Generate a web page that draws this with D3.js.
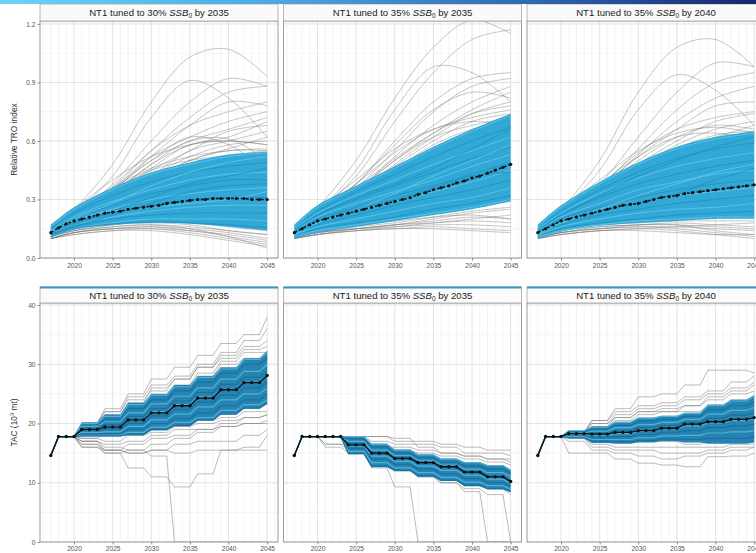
<!DOCTYPE html>
<html>
<head>
<meta charset="utf-8">
<script src="https://cdn.jsdelivr.net/npm/d3@7"></script>
<style>
  html, body { margin: 0; padding: 0; background: #fff; }
  svg { display: block; font-family: "Liberation Sans", Arial, sans-serif; }
</style>
</head>
<body>
<script>
// ---------- shared axes / categories ----------
const knotYears = [2017, 2020, 2025, 2030, 2035, 2040, 2045];
const medianYears = d3.range(2017, 2046);
const xTickYears = [2020, 2025, 2030, 2035, 2040, 2045];
const troTicks = [0, 0.3, 0.6, 0.9, 1.2];
const tacTicks = [0, 10, 20, 30, 40];
const tacHeadYears = [2017, 2018, 2019, 2020];
const tacHead = [14.6, 17.8, 17.8, 17.8];
const tacBlockStart = [2021, 2024, 2027, 2030, 2033, 2036, 2039, 2042, 2045];
const tacBlockEnd   = [2023, 2026, 2029, 2032, 2035, 2038, 2041, 2044, 2045];
const scenarioTarget = ["30%", "35%", "35%"];
const scenarioYear = ["2035", "2035", "2040"];

// ---------- relative TRO index: 30% SSB0 by 2035 ----------
const troGrayA = [
  [0.15,0.25,0.48,0.80,1.03,1.07,0.93],[0.14,0.23,0.42,0.72,0.91,0.82,0.62],
  [0.15,0.22,0.38,0.60,0.80,0.92,0.88],[0.14,0.22,0.36,0.55,0.72,0.85,0.88],
  [0.13,0.21,0.34,0.52,0.68,0.80,0.78],[0.14,0.21,0.35,0.52,0.62,0.70,0.75],
  [0.15,0.22,0.36,0.50,0.60,0.66,0.72],[0.13,0.20,0.33,0.48,0.58,0.62,0.70],
  [0.14,0.21,0.32,0.45,0.55,0.65,0.68],[0.13,0.20,0.32,0.46,0.58,0.60,0.58],
  [0.15,0.21,0.33,0.48,0.60,0.61,0.50],[0.14,0.22,0.35,0.50,0.62,0.58,0.45],
  [0.13,0.20,0.30,0.42,0.52,0.58,0.60],[0.14,0.20,0.30,0.40,0.50,0.56,0.62],
  [0.12,0.19,0.29,0.40,0.50,0.55,0.55],[0.13,0.19,0.30,0.42,0.55,0.60,0.65],
  [0.16,0.23,0.37,0.55,0.68,0.75,0.80],[0.14,0.21,0.30,0.38,0.45,0.52,0.55],
  [0.13,0.20,0.28,0.36,0.44,0.48,0.52],[0.16,0.24,0.36,0.46,0.52,0.55,0.56],
  [0.15,0.23,0.35,0.45,0.50,0.52,0.50],[0.16,0.25,0.40,0.52,0.58,0.60,0.58],
  [0.11,0.14,0.16,0.17,0.16,0.14,0.12],[0.10,0.13,0.15,0.16,0.15,0.13,0.10],
  [0.10,0.13,0.16,0.17,0.15,0.11,0.08],[0.11,0.14,0.17,0.18,0.17,0.14,0.12],
  [0.10,0.12,0.14,0.14,0.12,0.09,0.06],[0.11,0.14,0.17,0.19,0.18,0.16,0.14],
  [0.10,0.13,0.15,0.15,0.13,0.10,0.07],[0.12,0.15,0.18,0.19,0.19,0.17,0.15],
  [0.10,0.12,0.14,0.15,0.14,0.12,0.09],[0.11,0.15,0.18,0.20,0.20,0.18,0.16],
  [0.10,0.13,0.15,0.16,0.14,0.11,0.05]
];
const troBlueA = [
  [0.16,0.25,0.35,0.43,0.48,0.52,0.54],[0.15,0.23,0.32,0.39,0.44,0.47,0.49],
  [0.14,0.21,0.29,0.35,0.40,0.43,0.44],[0.14,0.20,0.27,0.33,0.37,0.40,0.40],
  [0.13,0.19,0.25,0.30,0.33,0.35,0.36],[0.13,0.18,0.23,0.27,0.30,0.31,0.31],
  [0.12,0.17,0.21,0.24,0.26,0.27,0.27],[0.12,0.16,0.20,0.22,0.23,0.23,0.23],
  [0.11,0.15,0.18,0.20,0.20,0.20,0.19],[0.11,0.15,0.175,0.185,0.18,0.17,0.155],
  [0.13,0.20,0.28,0.37,0.44,0.49,0.52],[0.12,0.17,0.24,0.31,0.38,0.42,0.46],
  [0.14,0.19,0.24,0.26,0.28,0.30,0.34],[0.12,0.16,0.22,0.28,0.34,0.37,0.38]
];
const troLoA = [0.105,0.145,0.17,0.18,0.175,0.16,0.14];
const troHiA = [0.17,0.26,0.36,0.44,0.49,0.53,0.545];
const troMedA = [0.13,0.155,0.175,0.19,0.20,0.21,0.22,0.23,0.235,0.24,0.25,0.255,0.26,0.265,
  0.27,0.28,0.285,0.29,0.295,0.30,0.30,0.305,0.305,0.305,0.305,0.305,0.30,0.30,0.30];

// ---------- relative TRO index: 35% SSB0 by 2035 ----------
const troGrayB = [
  [0.16,0.26,0.50,0.82,1.08,1.22,1.15],[0.15,0.24,0.42,0.70,0.95,1.12,1.17],
  [0.15,0.24,0.45,0.76,0.98,0.95,0.80],[0.14,0.22,0.38,0.60,0.80,0.92,0.95],
  [0.14,0.22,0.36,0.55,0.75,0.88,0.92],[0.15,0.23,0.38,0.58,0.76,0.85,0.82],
  [0.13,0.21,0.34,0.52,0.68,0.80,0.88],[0.14,0.22,0.35,0.50,0.64,0.76,0.85],
  [0.13,0.20,0.32,0.48,0.62,0.74,0.80],[0.15,0.24,0.38,0.54,0.66,0.72,0.76],
  [0.14,0.21,0.33,0.47,0.60,0.70,0.74],[0.13,0.20,0.31,0.45,0.58,0.66,0.70],
  [0.16,0.25,0.40,0.56,0.66,0.70,0.68],[0.14,0.22,0.34,0.50,0.62,0.68,0.72],
  [0.15,0.23,0.36,0.51,0.64,0.74,0.78],[0.12,0.19,0.30,0.44,0.56,0.64,0.66],
  [0.10,0.12,0.14,0.16,0.18,0.20,0.22],[0.10,0.12,0.15,0.17,0.19,0.21,0.20],
  [0.11,0.13,0.15,0.16,0.17,0.17,0.16],[0.10,0.12,0.14,0.15,0.16,0.15,0.14],
  [0.11,0.13,0.16,0.18,0.21,0.24,0.26],[0.10,0.13,0.15,0.17,0.20,0.23,0.25],
  [0.11,0.14,0.17,0.19,0.21,0.22,0.20],[0.10,0.12,0.14,0.15,0.15,0.14,0.13],
  [0.12,0.15,0.18,0.20,0.23,0.27,0.29],[0.11,0.13,0.15,0.17,0.18,0.19,0.18]
];
const troBlueB = [
  [0.16,0.26,0.36,0.46,0.56,0.65,0.73],[0.15,0.24,0.34,0.43,0.52,0.60,0.67],
  [0.15,0.23,0.32,0.40,0.48,0.55,0.62],[0.14,0.22,0.30,0.37,0.44,0.51,0.57],
  [0.14,0.21,0.28,0.34,0.40,0.47,0.53],[0.13,0.20,0.26,0.32,0.37,0.43,0.49],
  [0.13,0.19,0.24,0.29,0.34,0.39,0.45],[0.12,0.17,0.22,0.27,0.31,0.35,0.40],
  [0.12,0.16,0.20,0.24,0.28,0.31,0.36],[0.11,0.15,0.18,0.21,0.25,0.28,0.32],
  [0.11,0.14,0.17,0.20,0.23,0.26,0.30],[0.14,0.22,0.31,0.38,0.46,0.56,0.66],
  [0.12,0.18,0.25,0.33,0.42,0.50,0.58],[0.13,0.19,0.25,0.30,0.36,0.42,0.44]
];
const troLoB = [0.10,0.13,0.16,0.19,0.22,0.25,0.29];
const troHiB = [0.17,0.27,0.37,0.47,0.57,0.66,0.74];
const troMedB = [0.13,0.15,0.17,0.19,0.20,0.21,0.22,0.23,0.24,0.25,0.26,0.27,0.28,0.29,
  0.30,0.31,0.325,0.335,0.35,0.36,0.37,0.385,0.395,0.41,0.42,0.435,0.45,0.465,0.48];

// ---------- relative TRO index: 35% SSB0 by 2040 ----------
const troGrayC = [
  [0.15,0.25,0.50,0.85,1.08,1.12,0.98],[0.15,0.24,0.45,0.76,0.94,0.86,0.68],
  [0.14,0.22,0.38,0.62,0.85,1.00,0.98],[0.14,0.22,0.36,0.56,0.76,0.90,0.95],
  [0.13,0.21,0.35,0.53,0.70,0.82,0.88],[0.14,0.22,0.36,0.52,0.66,0.78,0.80],
  [0.15,0.23,0.37,0.54,0.66,0.72,0.75],[0.13,0.20,0.32,0.48,0.60,0.70,0.74],
  [0.14,0.21,0.33,0.46,0.58,0.66,0.70],[0.14,0.22,0.35,0.50,0.62,0.68,0.66],
  [0.13,0.20,0.31,0.44,0.56,0.63,0.65],[0.15,0.24,0.38,0.52,0.62,0.64,0.60],
  [0.12,0.19,0.30,0.42,0.53,0.60,0.63],[0.16,0.25,0.40,0.55,0.64,0.67,0.64],
  [0.14,0.21,0.32,0.45,0.56,0.62,0.68],
  [0.10,0.12,0.14,0.15,0.16,0.17,0.18],[0.10,0.13,0.15,0.16,0.16,0.15,0.14],
  [0.11,0.13,0.15,0.16,0.15,0.13,0.11],[0.10,0.12,0.14,0.15,0.14,0.12,0.10],
  [0.11,0.14,0.16,0.17,0.17,0.16,0.15],[0.12,0.14,0.17,0.18,0.19,0.19,0.19],
  [0.10,0.12,0.14,0.14,0.13,0.12,0.12],[0.11,0.13,0.16,0.17,0.18,0.17,0.16],
  [0.10,0.13,0.15,0.17,0.17,0.14,0.12]
];
const troBlueC = [
  [0.16,0.26,0.38,0.48,0.56,0.61,0.64],[0.15,0.24,0.35,0.44,0.51,0.56,0.59],
  [0.15,0.23,0.33,0.41,0.47,0.51,0.54],[0.14,0.22,0.31,0.38,0.43,0.47,0.50],
  [0.14,0.21,0.28,0.35,0.39,0.43,0.45],[0.13,0.20,0.26,0.31,0.35,0.38,0.40],
  [0.13,0.18,0.24,0.28,0.32,0.34,0.36],[0.12,0.17,0.22,0.25,0.28,0.30,0.32],
  [0.12,0.16,0.20,0.23,0.25,0.26,0.28],[0.11,0.15,0.18,0.20,0.22,0.23,0.24],
  [0.11,0.14,0.17,0.19,0.20,0.21,0.21],[0.14,0.22,0.32,0.42,0.50,0.57,0.62],
  [0.12,0.18,0.25,0.32,0.38,0.44,0.48],[0.13,0.19,0.24,0.28,0.33,0.40,0.46]
];
const troLoC = [0.10,0.135,0.165,0.18,0.19,0.20,0.20];
const troHiC = [0.17,0.27,0.39,0.49,0.57,0.62,0.65];
const troMedC = [0.13,0.15,0.17,0.19,0.20,0.21,0.22,0.23,0.24,0.25,0.26,0.27,0.275,0.28,
  0.29,0.30,0.31,0.315,0.32,0.33,0.335,0.34,0.345,0.35,0.355,0.36,0.365,0.37,0.375];

// ---------- TAC (1000 t), values per 3-year TAC block ----------
const tacGrayA = [
  [20.0,22.5,25.0,27.5,29.5,31.5,33.5,35.0,38.0],[20.0,22.0,24.5,26.5,28.0,30.0,32.0,34.0,36.0],
  [19.5,21.5,23.5,26.0,27.5,29.5,31.5,33.0,34.0],[20.0,22.0,24.0,25.5,27.5,29.5,31.0,32.5,33.0],
  [19.5,21.0,23.0,25.0,26.5,28.5,30.5,32.0,32.0],[19.0,21.0,22.5,24.5,26.0,28.0,30.0,31.0,31.5],
  [16.5,15.5,16.5,17.5,18.0,19.0,20.0,21.0,21.5],[16.0,15.0,15.5,16.5,17.5,18.5,19.5,20.0,20.5],
  [16.5,15.0,12.5,11.0,9.3,11.5,15.5,16.0,18.0],[17.0,16.0,15.5,14.5,0,0,0,0,0],
  [17.0,16.5,17.0,18.0,19.0,19.0,19.5,20.0,20.0],[16.0,15.5,15.0,15.5,16.5,17.0,17.0,18.0,19.0],
  [17.5,17.0,18.0,19.0,19.5,20.5,21.0,22.0,22.0],[18.0,18.0,19.0,20.0,21.0,22.0,23.0,24.0,25.0],
  [19.0,20.0,21.5,23.0,24.5,26.0,27.5,28.5,29.5],[18.5,19.5,20.5,22.0,23.5,25.0,26.5,28.0,29.0],
  [18.0,18.5,19.5,20.5,21.5,23.0,24.0,25.0,26.0],[17.0,15.5,15.0,15.5,15.0,15.5,15.5,15.5,15.5],
  [19.0,20.5,22.0,24.0,25.5,27.0,28.5,30.0,31.0],[17.5,18.5,18.0,18.5,19.5,20.0,20.5,21.0,21.5]
];
const tacBlueA = [
  [20.0,21.2,23.2,24.8,26.2,27.8,29.2,30.8,32.0],[19.6,20.8,22.5,24.0,25.5,27.0,28.5,30.0,31.0],
  [19.5,20.3,21.8,23.3,24.6,26.0,27.5,28.8,30.0],[19.2,19.8,21.2,22.5,23.8,25.2,26.6,27.8,28.8],
  [19.0,19.4,20.6,22.0,23.2,24.5,25.8,27.0,28.0],[18.7,19.0,20.0,21.3,22.4,23.6,24.8,26.0,27.0],
  [18.5,18.6,19.5,20.6,21.6,22.8,24.0,25.0,26.0],[18.2,18.3,19.0,20.0,20.8,21.8,23.0,24.0,25.0],
  [18.0,18.0,18.5,19.4,20.2,21.0,22.2,23.2,24.0],[17.9,17.9,18.2,19.0,19.7,20.6,21.6,22.6,23.4]
];
const tacLoA = [17.8,17.8,18.0,18.8,19.6,20.5,21.5,22.5,23.3];
const tacHiA = [20.2,21.5,23.5,25.0,26.5,28.0,29.5,31.0,32.3];
const tacMedA = [19.0,19.4,20.6,21.8,23.0,24.3,25.7,26.9,28.1];

const tacGrayB = [
  [17.8,17.8,17.8,17.0,17.0,16.5,16.0,15.5,15.5],[17.8,17.8,17.0,16.5,16.5,16.0,15.0,15.0,14.5],
  [17.8,17.8,17.8,17.5,16.0,15.0,14.5,14.0,13.5],[16.5,15.5,15.0,14.5,13.5,13.0,12.0,11.0,10.0],
  [16.0,15.0,14.0,13.0,12.0,11.0,10.0,9.0,8.0],[17.8,15.0,12.5,9.3,0,0,0,0,0],
  [17.8,15.0,13.0,12.0,11.0,10.0,8.5,0,0],[17.8,15.5,13.5,12.5,11.0,10.0,9.0,8.0,0],
  [17.8,16.5,15.5,14.5,13.5,12.5,11.5,10.5,9.5],[17.8,17.0,16.5,15.5,15.0,14.5,14.0,13.5,13.0],
  [17.8,15.0,13.0,12.0,11.5,10.5,9.5,9.0,8.5],[17.8,15.5,14.0,13.0,12.0,11.0,10.0,9.5,9.0],
  [17.8,16.0,14.5,13.5,12.5,11.5,11.0,10.5,10.0],[17.8,17.8,16.5,15.0,14.0,13.0,12.5,12.0,11.5],
  [17.8,17.5,16.0,15.0,14.5,14.0,13.0,12.5,12.0],[16.5,16.5,16.0,16.0,15.5,15.0,14.5,14.0,14.0]
];
const tacBlueB = [
  [17.8,17.8,16.5,15.5,14.7,14.0,13.4,12.9,12.1],[17.8,17.4,16.0,15.0,14.2,13.5,12.8,12.3,11.6],
  [17.8,17.0,15.5,14.6,13.8,13.0,12.3,11.7,11.0],[17.8,16.6,15.0,14.1,13.3,12.6,11.8,11.1,10.4],
  [17.8,16.2,14.5,13.6,12.8,12.1,11.3,10.6,9.9],[17.8,15.8,14.0,13.1,12.3,11.5,10.7,10.0,9.4],
  [17.8,15.3,13.4,12.5,11.7,10.9,10.1,9.5,8.9],[17.8,14.9,12.8,12.1,11.2,10.4,9.6,9.0,8.5]
];
const tacLoB = [17.8,14.8,12.6,12.0,11.0,10.3,9.4,8.9,8.4];
const tacHiB = [17.8,17.8,16.6,15.6,14.8,14.1,13.5,13.0,12.2];
const tacMedB = [17.8,16.4,15.0,14.1,13.4,12.7,11.8,11.0,10.2];

const tacGrayC = [
  [18.5,20.5,22.5,24.5,25.0,26.5,29.0,29.0,28.5],[18.5,20.5,22.0,23.0,23.5,24.5,25.5,27.0,28.0],
  [18.5,20.0,21.5,22.5,23.0,24.0,25.0,26.0,27.0],[18.5,20.0,21.0,22.0,22.5,23.0,24.0,25.0,25.5],
  [18.2,19.5,20.5,21.5,22.0,22.0,23.0,24.0,24.5],[15.0,15.0,14.0,13.3,13.0,12.7,14.4,14.5,15.0],
  [17.0,15.5,15.0,14.5,14.0,14.5,15.0,15.5,16.0],[17.5,16.0,15.5,15.5,15.0,15.0,15.5,16.0,16.0],
  [17.5,16.5,16.0,16.0,16.0,16.0,16.0,16.5,16.5],[18.0,17.0,17.0,17.0,17.5,17.5,18.0,18.0,18.0],
  [18.2,19.0,20.0,20.5,21.0,21.5,22.5,23.0,23.5],[18.0,18.5,19.0,19.0,19.5,20.0,20.5,21.0,21.5],
  [17.8,17.5,17.5,17.0,17.0,16.5,17.0,17.5,17.5],[18.5,19.5,21.0,22.0,22.0,23.0,24.5,25.5,26.5]
];
const tacBlueC = [
  [18.8,19.4,20.2,20.9,21.2,21.7,23.0,23.8,24.6],[18.6,19.0,19.7,20.4,20.7,21.2,22.3,23.0,23.6],
  [18.4,18.7,19.3,19.8,20.2,20.7,21.6,22.2,22.7],[18.3,18.4,18.8,19.3,19.7,20.2,20.9,21.4,21.8],
  [18.1,18.0,18.3,18.7,19.1,19.6,20.1,20.5,20.9],[17.9,17.7,17.8,18.1,18.5,18.8,19.3,19.6,19.9],
  [17.8,17.3,17.3,17.6,17.9,18.0,18.4,18.6,18.8],[17.6,17.0,16.9,17.1,17.4,17.3,17.5,17.5,17.8]
];
const tacLoC = [17.5,16.7,16.6,16.8,17.0,16.8,16.6,16.6,16.8];
const tacHiC = [18.8,19.5,20.3,21.0,21.3,21.8,23.2,24.0,24.8];
const tacMedC = [18.3,18.2,18.5,18.8,19.2,19.9,20.3,20.7,21.0];

// ---------- layout ----------
const W = 756, H = 553;
const colX = [40, 283.5, 527];
const panelW = 238;
const topRow = { y0: 21, y1: 258 };
const botRow = { y0: 303, y1: 542 };

const svg = d3.select("body").append("svg").attr("width", W).attr("height", H);
const defs = svg.append("defs");

// header ribbon
const grad = defs.append("linearGradient").attr("id", "ribbon").attr("x1", "0%").attr("x2", "100%");
[["0%", "#6fd2f6"], ["35%", "#4fa9e0"], ["70%", "#2f68b4"], ["100%", "#14286a"]]
  .forEach(([o, c]) => grad.append("stop").attr("offset", o).attr("stop-color", c));

const xScales = colX.map(x0 => d3.scaleLinear().domain([2015.6, 2046.4]).range([x0, x0 + panelW]));
const yTro = d3.scaleLinear().domain([0, 1.215]).range([topRow.y1, topRow.y0]);
const yTac = d3.scaleLinear().domain([0, 40.34]).range([botRow.y1, botRow.y0]);

// expand TAC block values into a yearly series
function tacSeries(blocks) {
  const pts = tacHeadYears.map((yr, i) => [yr, tacHead[i]]);
  blocks.forEach((v, i) => {
    for (let yr = tacBlockStart[i]; yr <= tacBlockEnd[i]; yr++) pts.push([yr, v]);
  });
  return pts;
}

function stripTitle(g, cx, cy, i) {
  const t = g.append("text").attr("x", cx).attr("y", cy).attr("text-anchor", "middle")
    .attr("font-size", 9.6).attr("fill", "#1a1a1a");
  t.append("tspan").text("NT1 tuned to " + scenarioTarget[i] + " ");
  t.append("tspan").attr("font-style", "italic").text("SSB");
  t.append("tspan").attr("font-size", 6.5).attr("dy", 2).text("0");
  t.append("tspan").attr("dy", -2).text(" by " + scenarioYear[i]);
}

function drawGrid(g, x, y, y0, y1, majors, minors) {
  const x0 = x.range()[0], x1 = x.range()[1];
  d3.range(2016, 2047).forEach(yr => {
    g.append("line").attr("x1", x(yr)).attr("x2", x(yr)).attr("y1", y0).attr("y2", y1)
      .attr("stroke", yr % 5 === 0 ? "#dcdcdc" : "#ececec").attr("stroke-width", yr % 5 === 0 ? 0.8 : 0.6);
  });
  minors.forEach(v => g.append("line").attr("x1", x0).attr("x2", x1).attr("y1", y(v)).attr("y2", y(v))
    .attr("stroke", "#ececec").attr("stroke-width", 0.6));
  majors.forEach(v => g.append("line").attr("x1", x0).attr("x2", x1).attr("y1", y(v)).attr("y2", y(v))
    .attr("stroke", "#dcdcdc").attr("stroke-width", 0.8));
}

function styleAxis(ax) {
  ax.select(".domain").remove();
  ax.selectAll(".tick line").attr("stroke", "#8a8a8a");
  ax.selectAll(".tick text").attr("fill", "#555").attr("font-size", 6.6)
    .attr("font-family", "'Liberation Sans', Arial, sans-serif");
}

function panelFrame(i, row, isTop) {
  const x = xScales[i];
  const g = svg.append("g");
  const cid = "clip" + (isTop ? "t" : "b") + i;
  defs.append("clipPath").attr("id", cid).append("rect")
    .attr("x", x.range()[0]).attr("y", row.y0).attr("width", panelW).attr("height", row.y1 - row.y0);
  return { g, x, clip: "url(#" + cid + ")" };
}

// ---------- top row: relative TRO index ----------
const troSets = [
  [troGrayA, troBlueA, troLoA, troHiA, troMedA],
  [troGrayB, troBlueB, troLoB, troHiB, troMedB],
  [troGrayC, troBlueC, troLoC, troHiC, troMedC]
];
const smooth = d3.curveCatmullRom.alpha(0.5);

troSets.forEach(([gray, blue, lo, hi, med], i) => {
  const { g, x, clip } = panelFrame(i, topRow, true);
  drawGrid(g, x, yTro, topRow.y0, topRow.y1, troTicks, [0.15, 0.45, 0.75, 1.05]);
  const body = g.append("g").attr("clip-path", clip);
  const line = d3.line().x((d, k) => x(knotYears[k])).y(d => yTro(d)).curve(smooth);
  body.selectAll(".gray").data(gray).join("path").attr("d", line)
    .attr("fill", "none").attr("stroke", "#6a6a6a").attr("stroke-opacity", 0.5).attr("stroke-width", 0.75);
  const area = d3.area().x((d, k) => x(knotYears[k])).y0((d, k) => yTro(lo[k])).y1(d => yTro(d)).curve(smooth);
  body.append("path").datum(hi).attr("d", area).attr("fill", "#31a8d5");
  body.selectAll(".blue").data(blue).join("path").attr("d", line)
    .attr("fill", "none").attr("stroke", (d, k) => k % 2 ? "#1c8fc0" : "#6ccbee")
    .attr("stroke-opacity", 0.75).attr("stroke-width", 1);
  const medLine = d3.line().x((d, k) => x(medianYears[k])).y(d => yTro(d));
  body.append("path").datum(med).attr("d", medLine).attr("fill", "none")
    .attr("stroke", "#111").attr("stroke-width", 1.5).attr("stroke-dasharray", "3,2");
  body.selectAll(".med").data(med).join("circle").attr("cx", (d, k) => x(medianYears[k]))
    .attr("cy", d => yTro(d)).attr("r", 1.6).attr("fill", "#111");

  g.append("rect").attr("x", x.range()[0]).attr("y", topRow.y0).attr("width", panelW)
    .attr("height", topRow.y1 - topRow.y0).attr("fill", "none").attr("stroke", "#9a9a9a").attr("stroke-width", 1);
  // strip
  g.append("rect").attr("x", x.range()[0]).attr("y", 4).attr("width", panelW).attr("height", topRow.y0 - 4)
    .attr("fill", "#fafafa").attr("stroke", "#a8a8a8").attr("stroke-width", 0.8);
  stripTitle(g, x.range()[0] + panelW / 2, 16, i);

  const ax = g.append("g").attr("transform", `translate(0,${topRow.y1})`)
    .call(d3.axisBottom(x).tickValues(xTickYears).tickFormat(d3.format("d")).tickSize(2.5).tickPadding(3));
  styleAxis(ax);
  if (i === 0) {
    const ay = g.append("g").attr("transform", `translate(${x.range()[0]},0)`)
      .call(d3.axisLeft(yTro).tickValues(troTicks).tickFormat(d3.format(".1f")).tickSize(2.5).tickPadding(2));
    styleAxis(ay);
  }
});

// ---------- bottom row: TAC ----------
const tacSets = [
  [tacGrayA, tacBlueA, tacLoA, tacHiA, tacMedA],
  [tacGrayB, tacBlueB, tacLoB, tacHiB, tacMedB],
  [tacGrayC, tacBlueC, tacLoC, tacHiC, tacMedC]
];

tacSets.forEach(([gray, blue, lo, hi, med], i) => {
  const { g, x, clip } = panelFrame(i, botRow, false);
  drawGrid(g, x, yTac, botRow.y0, botRow.y1, tacTicks, [5, 15, 25, 35]);
  const body = g.append("g").attr("clip-path", clip);
  const line = d3.line().x(d => x(d[0])).y(d => yTac(d[1]));
  body.selectAll(".gray").data(gray.map(tacSeries)).join("path").attr("d", line)
    .attr("fill", "none").attr("stroke", "#7a7a7a").attr("stroke-opacity", 0.5).attr("stroke-width", 1);
  const loS = tacSeries(lo), hiS = tacSeries(hi);
  const area = d3.area().x(d => x(d[0])).y0((d, k) => yTac(loS[k][1])).y1(d => yTac(d[1]));
  body.append("path").datum(hiS.slice(3)).attr("d", (d) => area.y0((p, k) => yTac(loS[k + 3][1]))(d))
    .attr("fill", "#2684b3");
  body.selectAll(".blue").data(blue.map(tacSeries)).join("path").attr("d", line)
    .attr("fill", "none").attr("stroke", (d, k) => k % 2 ? "#176d9a" : "#5cbbe0")
    .attr("stroke-opacity", 0.8).attr("stroke-width", 1.2);
  const medS = tacSeries(med);
  body.append("path").datum(medS).attr("d", line).attr("fill", "none")
    .attr("stroke", "#111").attr("stroke-width", 1.3);
  body.selectAll(".med").data(medS).join("circle").attr("cx", d => x(d[0])).attr("cy", d => yTac(d[1]))
    .attr("r", 1.7).attr("fill", "#111");

  g.append("rect").attr("x", x.range()[0]).attr("y", botRow.y0).attr("width", panelW)
    .attr("height", botRow.y1 - botRow.y0).attr("fill", "none").attr("stroke", "#9a9a9a").attr("stroke-width", 1);
  g.append("rect").attr("x", x.range()[0]).attr("y", 287).attr("width", panelW).attr("height", botRow.y0 - 287)
    .attr("fill", "#fafafa").attr("stroke", "#a8a8a8").attr("stroke-width", 0.8);
  g.append("line").attr("x1", x.range()[0]).attr("x2", x.range()[0] + panelW).attr("y1", 287.5).attr("y2", 287.5)
    .attr("stroke", "#3f92c4").attr("stroke-width", 2);
  stripTitle(g, x.range()[0] + panelW / 2, 299, i);

  const ax = g.append("g").attr("transform", `translate(0,${botRow.y1})`)
    .call(d3.axisBottom(x).tickValues(xTickYears).tickFormat(d3.format("d")).tickSize(2.5).tickPadding(2));
  styleAxis(ax);
  if (i === 0) {
    const ay = g.append("g").attr("transform", `translate(${x.range()[0]},0)`)
      .call(d3.axisLeft(yTac).tickValues(tacTicks).tickFormat(d3.format("d")).tickSize(2.5).tickPadding(2));
    styleAxis(ay);
  }
});

// y-axis titles
svg.append("text").attr("transform", `translate(17,${(topRow.y0 + topRow.y1) / 2}) rotate(-90)`)
  .attr("text-anchor", "middle").attr("font-size", 8.4).attr("fill", "#333").text("Relative TRO index");
const tacTitle = svg.append("text").attr("transform", `translate(17,${(botRow.y0 + botRow.y1) / 2}) rotate(-90)`)
  .attr("text-anchor", "middle").attr("font-size", 8.4).attr("fill", "#333");
tacTitle.append("tspan").text("TAC (10");
tacTitle.append("tspan").attr("font-size", 5.8).attr("dy", -3).text("3");
tacTitle.append("tspan").attr("dy", 3).text(" mt)");

// header ribbon on top
svg.append("rect").attr("x", 0).attr("y", 0).attr("width", W).attr("height", 4).attr("fill", "url(#ribbon)");
</script>
</body>
</html>
